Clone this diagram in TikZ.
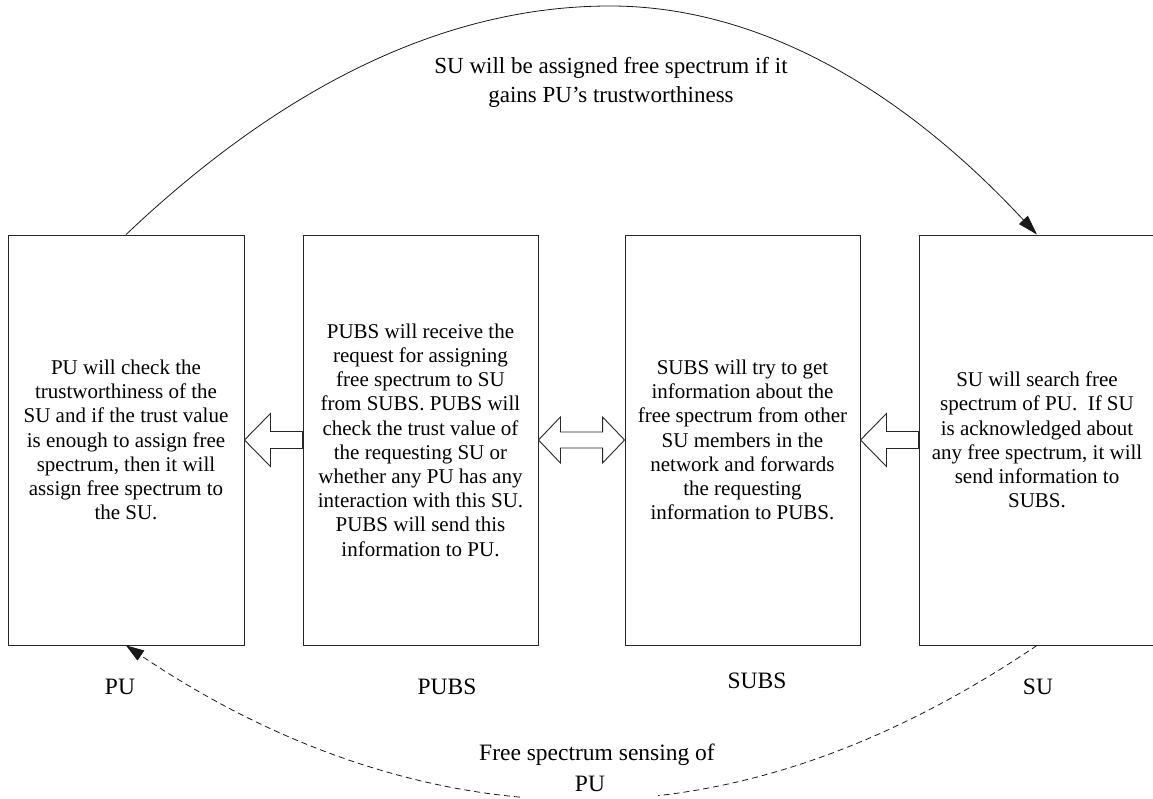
\documentclass[tikz,border=0pt]{standalone}
\usepackage{fontspec}
\setmainfont{Liberation Serif}
\usetikzlibrary{arrows.meta,calc}
\begin{document}
\begin{tikzpicture}[x=1pt,y=-1pt,
  box/.style={draw=black!85, line width=0.9pt, minimum width=236pt, minimum height=410pt,
    align=center, font=\fontsize{21}{24.2}\selectfont, inner sep=0pt},
  barrow/.style={draw=black!85, line width=0.9pt, fill=white, line join=miter},
  lbl/.style={font=\fontsize{23.5}{28}\selectfont, inner sep=0pt},
  conn/.style={draw=black!90, line width=0.8pt},
]
\useasboundingbox (0,0) rectangle (1153,799);

\node[box, minimum width=236pt] (PU) at (126,440) {PU will check the\\trustworthiness of the\\SU and if the trust value\\is enough to assign free\\spectrum, then it will\\assign free spectrum to\\the SU.};
\node[box, minimum width=235pt] (PUBS) at (420.5,440) {PUBS will receive the\\request for assigning\\free spectrum to SU\\from SUBS. PUBS will\\check the trust value of\\the requesting SU or\\whether any PU has any\\interaction with this SU.\\PUBS will send this\\information to PU.};
\node[box, minimum width=235pt] (SUBS) at (742.5,440) {SUBS will try to get\\information about the\\free spectrum from other\\SU members in the\\network and forwards\\the requesting\\information to PUBS.};
\node[box, minimum width=236pt] (SU) at (1037,440) {SU will search free\\spectrum of PU.~ If SU\\is acknowledged about\\any free spectrum, it will\\send information to\\SUBS.};

% block arrows
\draw[barrow] (PU.east) -- ($(PU.east)+(26,-26.5)$) -- ($(PU.east)+(26,-8.5)$) -- ($(PUBS.west)+(0,-8.5)$) -- ($(PUBS.west)+(0,8.5)$) -- ($(PU.east)+(26,8.5)$) -- ($(PU.east)+(26,26.5)$) -- cycle;
\draw[barrow] (PUBS.east) -- ++(22,-23) -- ++(0,15) -- ($(SUBS.west)+(-22,-8)$) -- ++(0,-15) -- (SUBS.west) -- ++(-22,23) -- ++(0,-15) -- ($(PUBS.east)+(22,8)$) -- ++(0,15) -- cycle;
\draw[barrow] (SUBS.east) -- ($(SUBS.east)+(26,-26.5)$) -- ($(SUBS.east)+(26,-8.5)$) -- ($(SU.west)+(0,-8.5)$) -- ($(SU.west)+(0,8.5)$) -- ($(SUBS.east)+(26,8.5)$) -- ($(SUBS.east)+(26,26.5)$) -- cycle;

% labels
\node[lbl] (lPU) at (120,687) {PU};
\node[lbl] (lPUBS) at (447,687) {PUBS};
\node[lbl] (lSUBS) at (757,681) {SUBS};
\node[lbl] (lSU) at (1038,687) {SU};

% top connector
\coordinate (peak) at (610,6);
\draw[conn, -{Triangle[length=20pt,width=12pt]}] (PU.north) .. controls (287,82) and (449,6) .. (peak) .. controls (752,6) and (895,82) .. (SU.north);
\node[font=\fontsize{23}{29}\selectfont, align=center, inner sep=0pt] (toplab) at (611,82) {SU will be assigned free spectrum if it\\gains PU's trustworthiness};

% bottom connector
\coordinate (low) at (582,800);
\draw[conn, dash pattern=on 6pt off 4pt, -{Triangle[length=18pt,width=12pt]}] (SU.south) .. controls (885,748) and (734,800) .. (low) .. controls (430,800) and (278,748) .. (PU.south);
\node[lbl, fill=white, minimum width=136pt, text height=17pt, text depth=18pt, anchor=base] (blab2) at (590,791) {PU};
\node[lbl] (blab1) at (597,755) {Free spectrum sensing of};
\end{tikzpicture}
\end{document}
